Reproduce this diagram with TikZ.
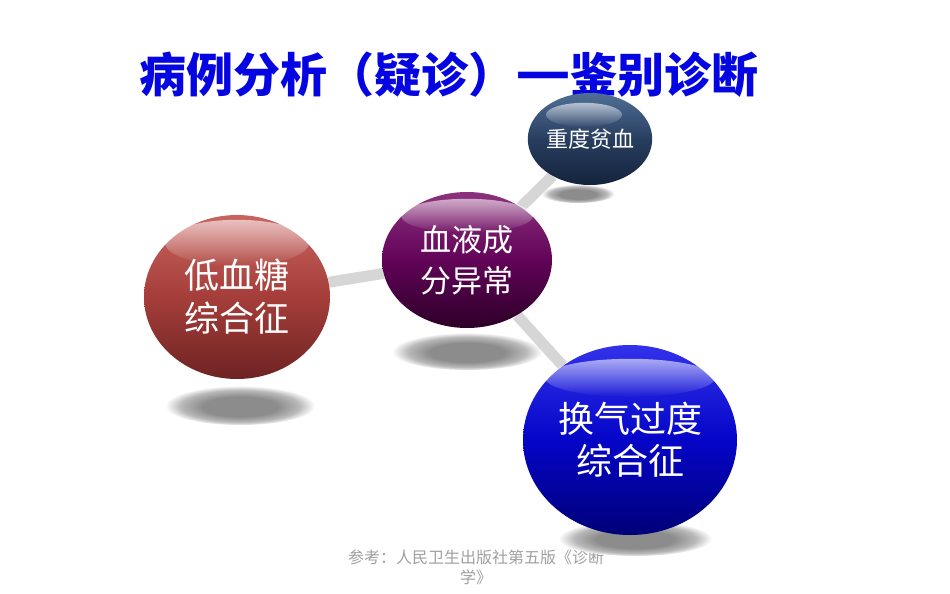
\documentclass[tikz,border=0pt]{standalone}
\usepackage{fontspec}
\newfontfamily\cjk{Noto Sans CJK SC}
\usetikzlibrary{shapes.geometric, fadings, backgrounds}

\definecolor{titleblue}{RGB}{5,5,225}
\definecolor{stickgray}{RGB}{214,214,214}
\definecolor{notegray}{RGB}{160,160,160}
\definecolor{shadowdark}{RGB}{140,140,140}
\definecolor{shadowmid}{RGB}{185,185,185}

% 柔和投影
\pgfdeclareradialshading{softshadow}{\pgfpoint{0bp}{-4bp}}{color(0bp)=(shadowdark); color(12bp)=(shadowdark); color(19bp)=(shadowmid); color(24bp)=(white); color(50bp)=(white)}

\tikzset{
	ball/.style={ellipse, inner sep=0pt, align=center, text=white},
	redball/.style={top color={rgb,255:red,200;green,100;blue,95}, bottom color={rgb,255:red,110;green,35;blue,35}, middle color={rgb,255:red,165;green,62;blue,58}},
	purpball/.style={top color={rgb,255:red,140;green,50;blue,125}, bottom color={rgb,255:red,45;green,0;blue,40}, middle color={rgb,255:red,98;green,3;blue,88}},
	navyball/.style={top color={rgb,255:red,80;green,110;blue,150}, bottom color={rgb,255:red,20;green,35;blue,60}, middle color={rgb,255:red,40;green,62;blue,95}},
	blueball/.style={top color={rgb,255:red,50;green,50;blue,235}, bottom color={rgb,255:red,0;green,0;blue,120}, middle color={rgb,255:red,5;green,5;blue,200}},
	gloss/.style={fill=white, path fading=south, opacity=0.6},
	ballshadow/.style={shading=softshadow},
	stick/.style={stickgray, line width=11pt}
}

\begin{document}
\begin{tikzpicture}[x=1pt, y=-1pt]
	% 画布
	\useasboundingbox (0,0) rectangle (950,594);

	% 标题
	\node[text=titleblue, font=\cjk\bfseries\fontsize{47}{47}\selectfont] (title) at (449,75) {病例分析（疑诊）\scalebox{1.3}[1.25]{—}鉴别诊断};

	% 四个球
	\node[ball, redball, minimum width=186pt, minimum height=164pt, font=\cjk\fontsize{35}{43}\selectfont] (hypo) at (237,297) {低血糖\\综合征};
	\node[ball, purpball, minimum width=170pt, minimum height=136pt, font=\cjk\fontsize{31}{41}\selectfont] (blood) at (467,260) {血液成\\分异常};
	\node[ball, navyball, minimum width=124pt, minimum height=92pt, font=\cjk\fontsize{22}{22}\selectfont] (anemia) at (590,139) {重度贫血};
	\node[ball, blueball, minimum width=214pt, minimum height=190pt, font=\cjk\fontsize{36}{42}\selectfont] (hyper) at (630,440) {换气过度\\综合征};

	% 高光
	\fill[gloss] ([yshift=-28pt]hypo.north) ellipse (72 and 23);
	\fill[gloss] ([yshift=-24pt]blood.north) ellipse (66 and 17);
	\fill[gloss] ([xshift=-6pt, yshift=-22pt]anemia.north) ellipse (38 and 12);
	\fill[gloss] ([yshift=-33pt]hyper.north) ellipse (85 and 19);

	% 连杆和投影
	\begin{scope}[on background layer]
		\fill[white] (0,0) rectangle (950,594);
		\node[text=notegray, align=center, font=\cjk\fontsize{16}{20}\selectfont] (ref) at (476,567) {参考：人民卫生出版社第五版《诊断\\学》};
		\shade[ballshadow] (240,404) ellipse (78 and 21);
		\shade[ballshadow] (467,350) ellipse (78 and 20);
		\shade[ballshadow] (578,193) ellipse (38 and 10);
		\shade[ballshadow] (635,537) ellipse (80 and 19);
		\draw[stick] (hypo) -- (blood);
		\draw[stick] (blood) -- (anemia);
		\draw[stick] (blood) -- (hyper);
	\end{scope}
\end{tikzpicture}
\end{document}
